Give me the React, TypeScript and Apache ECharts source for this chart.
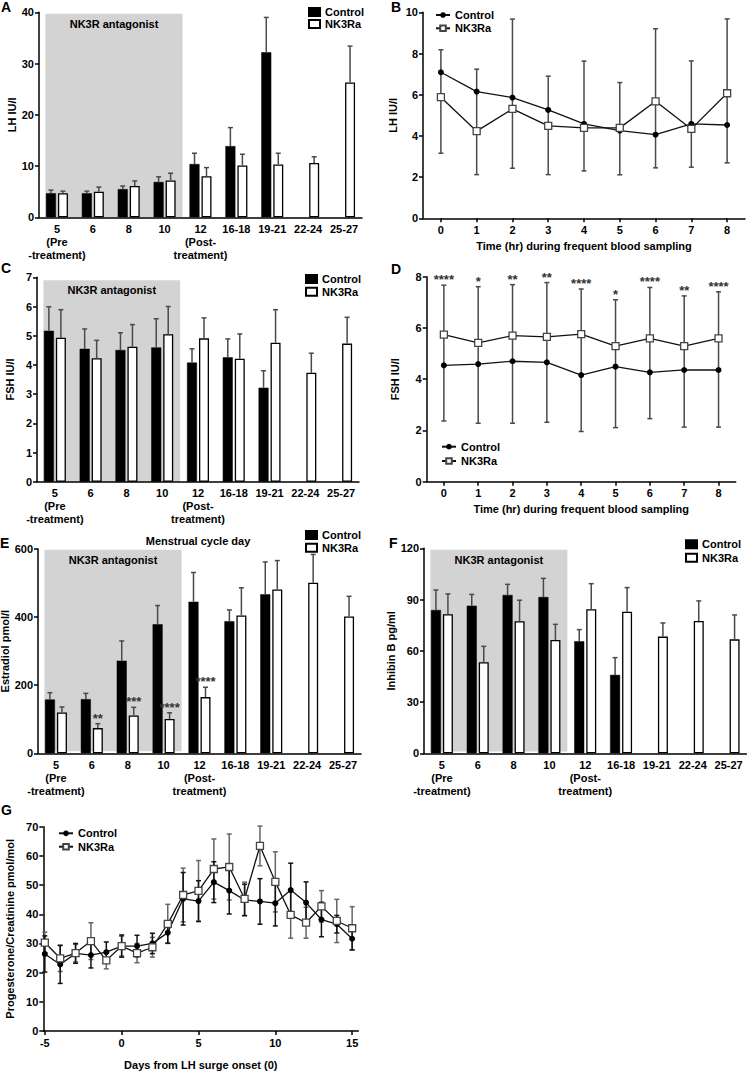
import React, { useEffect, useRef } from 'react';
import * as echarts from 'echarts';

// ---------- shared categories ----------
const cycleDays = ['5\n(Pre\n-treatment)', '6', '8', '10', '12\n(Post-\ntreatment)', '16-18', '19-21', '22-24', '25-27'];
const hours = [0, 1, 2, 3, 4, 5, 6, 7, 8];
const hourTicks = [0, 1, 2, 3, 4, 5, 6, 7, 8];
const days = [-5, -4, -3, -2, -1, 0, 1, 2, 3, 4, 5, 6, 7, 8, 9, 10, 11, 12, 13, 14, 15];
const dayTicks = [-5, 0, 5, 10, 15];

// ---------- A: LH (bars) ----------
const lhCtrl = [4.7, 4.7, 5.5, 6.9, 10.4, 13.9, 32.2, null, null];
const lhCtrlErr = [5.3, 5.1, 6.1, 7.9, 12.5, 17.5, 39.0, null, null];
const lhNk = [4.7, 5.0, 6.1, 7.2, 8.0, 10.1, 10.3, 10.6, 26.3];
const lhNkErr = [5.1, 5.9, 7.1, 8.6, 9.7, 12.3, 12.5, 11.8, 33.4];

// ---------- B: LH frequent sampling ----------
const bCtrl = [7.09, 6.15, 5.86, 5.26, 4.58, 4.26, 4.06, 4.58, 4.53];
const bNk = [5.88, 4.23, 5.31, 4.49, 4.39, 4.39, 5.68, 4.34, 6.07];
const bHigh = [8.18, 7.24, 9.67, 6.9, 7.63, 6.59, 9.2, 7.64, 9.68];
const bLow = [3.16, 2.12, 2.43, 2.12, 2.3, 2.11, 2.45, 2.48, 2.69];

// ---------- C: FSH (bars) ----------
const fshCtrl = [5.17, 4.55, 4.51, 4.6, 4.08, 4.26, 3.22, null, null];
const fshCtrlErr = [5.99, 5.23, 5.1, 5.58, 4.55, 4.89, 3.8, null, null];
const fshNk = [4.93, 4.23, 4.62, 5.05, 4.91, 4.21, 4.76, 3.73, 4.73];
const fshNkErr = [5.89, 4.84, 5.38, 6.0, 5.61, 5.06, 5.89, 4.4, 5.63];

// ---------- D: FSH frequent sampling ----------
const dCtrl = [4.54, 4.59, 4.7, 4.66, 4.16, 4.49, 4.27, 4.36, 4.36];
const dNk = [5.74, 5.42, 5.7, 5.65, 5.76, 5.29, 5.59, 5.29, 5.59];
const dHigh = [7.67, 7.61, 7.69, 7.77, 7.52, 7.1, 7.58, 7.25, 7.41];
const dLow = [2.37, 2.28, 2.28, 2.32, 1.96, 2.11, 2.46, 2.13, 2.13];
const dStars = ['****', '*', '**', '**', '****', '*', '****', '**', '****'];

// ---------- E: Estradiol (bars) ----------
const e2Ctrl = [158, 159, 272, 379, 445, 388, 467, null, null];
const e2CtrlErr = [178, 176, 330, 434, 531, 421, 562, null, null];
const e2Nk = [120, 74, 111, 101, 165, 405, 481, 501, 402];
const e2NkErr = [136, 87, 135, 119, 194, 486, 566, 584, 461];
const e2Stars = ['', '**', '***', '****', '****', '', '', '', ''];

// ---------- F: Inhibin B (bars) ----------
const inhCtrl = [83.9, 86.4, 92.7, 91.5, 65.6, 45.9, null, null, null];
const inhCtrlErr = [95.6, 93.0, 98.9, 102.4, 72.4, 56.0, null, null, null];
const inhNk = [81.4, 53.3, 77.3, 66.3, 84.3, 82.9, 68.3, 77.5, 66.7];
const inhNkErr = [93.3, 62.6, 89.6, 75.5, 99.3, 97.0, 76.3, 89.2, 81.0];

// ---------- G: Progesterone / creatinine ----------
const gCtrl = [26.4, 22.8, 26.6, 26.0, 27.0, 29.1, 29.1, 30.0, 33.7, 45.3, 44.5, 51.0, 48.1, 44.9, 44.4, 43.8, 48.3, 44.0, 38.2, 36.6, 31.6];
const gCtrlSd = [6.2, 6.5, 3.4, 4.4, 3.5, 3.8, 3.7, 3.5, 3.6, 9.0, 7.0, 7.0, 8.0, 5.4, 7.8, 7.8, 9.2, 7.1, 5.9, 3.0, 3.8];
const gNk = [30.3, 24.9, 26.7, 30.8, 24.2, 29.1, 26.7, 28.7, 36.7, 46.6, 48.0, 55.5, 56.2, 45.3, 63.4, 51.1, 39.8, 37.1, 42.7, 37.7, 35.2];
const gNkSd = [3.6, 4.5, 3.0, 6.3, 2.9, 3.4, 3.3, 3.4, 6.7, 9.2, 10.4, 10.3, 11.3, 5.7, 6.8, 10.3, 8.0, 5.3, 5.4, 7.4, 7.4];

// treatment period shading: [first category, last category, top, bottom]
const shadeA = [0, 3, 39.7, 0];
const shadeC = [0, 3, 6.9, 0];
const shadeE = [0, 3, 598, 6];
const shadeF = [0, 3, 119.2, 1];
const shadeLabel = 'NK3R antagonist';

const FONT = 'Arial, "Liberation Sans", sans-serif';
const BAR_W = 10;
const BAR_GAP = 2;
const BAR_OFF = (BAR_W + BAR_GAP) / 2;
const ERR_COLOR = '#4a4a4a';

const txt = { fontSize: 11, fontWeight: 'bold', color: '#000', fontFamily: FONT };

function yAxis(gridIndex: number, min: number, max: number, interval: number, name: string, nameGap: number) {
  return {
    type: 'value', gridIndex, min, max, interval, name, nameLocation: 'middle', nameGap,
    nameTextStyle: { ...txt },
    axisLine: { show: true, onZero: false, lineStyle: { color: '#000', width: 1.5 } },
    axisTick: { show: true, length: 4, lineStyle: { color: '#000', width: 1.5 } },
    axisLabel: { ...txt, margin: 5 },
    splitLine: { show: false },
  };
}

function catAxis(gridIndex: number, name?: string, nameGap?: number) {
  return {
    type: 'category', gridIndex, data: cycleDays,
    name: name || '', nameLocation: 'middle', nameGap: nameGap || 0, nameTextStyle: { ...txt },
    axisLine: { show: true, onZero: false, lineStyle: { color: '#000', width: 1.5 } },
    axisTick: { show: false },
    axisLabel: { ...txt, interval: 0, lineHeight: 13, margin: 5, hideOverlap: false },
    splitLine: { show: false },
  };
}

function valXAxis(gridIndex: number, min: number, max: number, ticks: number[], name: string, nameGap: number) {
  return {
    type: 'value', gridIndex, min, max, name, nameLocation: 'middle', nameGap,
    nameTextStyle: { ...txt },
    axisLine: { show: true, onZero: false, lineStyle: { color: '#000', width: 1.5 } },
    axisTick: { show: true, length: 4, customValues: ticks, lineStyle: { color: '#000', width: 1.5 } },
    axisLabel: { ...txt, margin: 6, customValues: ticks },
    splitLine: { show: false },
  };
}

function shadeSeries(g: number, shade: number[]) {
  return {
    type: 'custom', xAxisIndex: g, yAxisIndex: g, z: 0, silent: true, clip: false,
    data: [shade],
    renderItem: (params: any, api: any) => {
      const a = api.coord([api.value(0), api.value(2)]);
      const b = api.coord([api.value(1), api.value(3)]);
      const band = api.size([1, 0])[0];
      const x0 = a[0] - BAR_OFF - BAR_W / 2 - 0.5;
      const x1 = b[0] + band / 2;
      return {
        type: 'group',
        children: [
          { type: 'rect', shape: { x: x0, y: a[1], width: x1 - x0, height: b[1] - a[1] }, style: { fill: '#d3d3d3' } },
          {
            type: 'text', x: (x0 + x1) / 2, y: a[1] + 10,
            style: { text: shadeLabel, textAlign: 'center', textVerticalAlign: 'middle', align: 'center', verticalAlign: 'middle', font: 'bold 11px ' + FONT, fill: '#000' },
          },
        ],
      };
    },
  };
}

function barSeries(g: number, ctrl: (number | null)[], nk: (number | null)[]) {
  return [
    {
      type: 'bar', name: 'Control', xAxisIndex: g, yAxisIndex: g, z: 2, silent: true,
      data: ctrl.map((v) => (v == null ? '-' : v)), barWidth: BAR_W, barGap: (BAR_GAP / BAR_W) * 100 + '%',
      itemStyle: { color: '#000', borderColor: '#000', borderWidth: 0.5 },
    },
    {
      type: 'bar', name: 'NK3Ra', xAxisIndex: g, yAxisIndex: g, z: 2, silent: true,
      data: nk.map((v) => (v == null ? '-' : v)), barWidth: BAR_W, barGap: (BAR_GAP / BAR_W) * 100 + '%',
      itemStyle: { color: '#fff', borderColor: '#000', borderWidth: 1.3 },
    },
  ];
}

function barErrSeries(g: number, means: (number | null)[], errs: (number | null)[], side: number, stars?: string[]) {
  const items: number[][] = [];
  const labels: string[] = [];
  means.forEach((m, i) => {
    const e = errs[i];
    if (m != null && e != null) {
      items.push([i, m, e]);
      labels.push(stars ? stars[i] : '');
    }
  });
  return {
    type: 'custom', xAxisIndex: g, yAxisIndex: g, z: 3, silent: true, clip: false,
    data: items, encode: { x: 0, y: [1, 2] },
    renderItem: (params: any, api: any) => {
      const i = api.value(0);
      const p0 = api.coord([i, api.value(1)]);
      const p1 = api.coord([i, api.value(2)]);
      const cx = p0[0] + side * BAR_OFF;
      const children: any[] = [
        { type: 'line', shape: { x1: cx, y1: p0[1], x2: cx, y2: p1[1] }, style: { stroke: ERR_COLOR, lineWidth: 1.5 } },
        { type: 'line', shape: { x1: cx - 2.5, y1: p1[1], x2: cx + 2.5, y2: p1[1] }, style: { stroke: ERR_COLOR, lineWidth: 1.5 } },
      ];
      const s = labels[params.dataIndex];
      if (s) {
        children.push({
          type: 'text', x: cx, y: p1[1] + 1,
          style: { text: s, textAlign: 'center', textVerticalAlign: 'bottom', align: 'center', verticalAlign: 'bottom', font: 'bold 13px ' + FONT, fill: '#333' },
        });
      }
      return { type: 'group', children };
    },
  };
}

function rangeErrSeries(g: number, xs: number[], lows: number[], highs: number[], color: string, stars?: string[], z = 1) {
  const items = xs.map((x, i) => [x, lows[i], highs[i]]);
  return {
    type: 'custom', xAxisIndex: g, yAxisIndex: g, z, silent: true, clip: false,
    data: items, encode: { x: 0, y: [1, 2] },
    renderItem: (params: any, api: any) => {
      const x = api.value(0);
      const lo = api.coord([x, api.value(1)]);
      const hi = api.coord([x, api.value(2)]);
      const children: any[] = [
        { type: 'line', shape: { x1: lo[0], y1: lo[1], x2: hi[0], y2: hi[1] }, style: { stroke: color, lineWidth: 1.5 } },
        { type: 'line', shape: { x1: lo[0] - 2.5, y1: lo[1], x2: lo[0] + 2.5, y2: lo[1] }, style: { stroke: color, lineWidth: 1.5 } },
        { type: 'line', shape: { x1: hi[0] - 2.5, y1: hi[1], x2: hi[0] + 2.5, y2: hi[1] }, style: { stroke: color, lineWidth: 1.5 } },
      ];
      const s = stars ? stars[params.dataIndex] : '';
      if (s) {
        children.push({
          type: 'text', x: hi[0], y: hi[1] + 1,
          style: { text: s, textAlign: 'center', textVerticalAlign: 'bottom', align: 'center', verticalAlign: 'bottom', font: 'bold 13px ' + FONT, fill: '#333' },
        });
      }
      return { type: 'group', children };
    },
  };
}

function lineSeries(g: number, xs: number[], ys: number[], isCtrl: boolean) {
  return {
    type: 'line', name: isCtrl ? 'Control ' : 'NK3Ra ', xAxisIndex: g, yAxisIndex: g, z: 4, silent: true,
    data: xs.map((x, i) => [x, ys[i]]),
    symbol: isCtrl ? 'circle' : 'rect', symbolSize: isCtrl ? 6 : 7,
    lineStyle: { color: '#111', width: 1.3 },
    itemStyle: isCtrl ? { color: '#000', borderColor: '#000', borderWidth: 0 } : { color: '#fff', borderColor: '#444', borderWidth: 1.3 },
  };
}

function legend(names: string[], left: number, top: number, gap: number, isBar: boolean) {
  const base: any = {
    data: names, left, top, orient: 'vertical', padding: 0, itemGap: gap, selectedMode: false,
    formatter: (n: string) => n.trim(),
    textStyle: { ...txt, lineHeight: 12 },
  };
  if (isBar) {
    base.icon = 'rect';
    base.itemWidth = 11;
    base.itemHeight = 8;
  } else {
    base.itemWidth = 14;
    base.itemHeight = 7;
  }
  return base;
}

const panelLetters = [
  { t: 'A', l: 1, tp: 0 },
  { t: 'B', l: 391, tp: 0 },
  { t: 'C', l: 1, tp: 261 },
  { t: 'D', l: 391, tp: 262 },
  { t: 'E', l: 0, tp: 536 },
  { t: 'F', l: 389, tp: 536 },
  { t: 'G', l: 1, tp: 803 },
];

function buildOption(): any {
  const gNkLow = gNk.map((v, i) => v - gNkSd[i]);
  const gNkHigh = gNk.map((v, i) => v + gNkSd[i]);
  const gCtrlLow = gCtrl.map((v, i) => v - gCtrlSd[i]);
  const gCtrlHigh = gCtrl.map((v, i) => v + gCtrlSd[i]);

  return {
    animation: false,
    backgroundColor: '#fff',
    textStyle: { fontFamily: FONT },
    title: panelLetters.map((p) => ({
      text: p.t, left: p.l, top: p.tp, padding: 0,
      textStyle: { fontSize: 14, fontWeight: 'bold', color: '#000', fontFamily: FONT },
    })),
    legend: [
      legend(['Control', 'NK3Ra'], 308, 6, 0, true),
      legend(['Control ', 'NK3Ra '], 435, 9, 1.3, false),
      legend(['Control', 'NK3Ra'], 305, 273, 0.7, true),
      legend(['Control ', 'NK3Ra '], 441, 440.7, 2.3, false),
      legend(['Control', 'NK3Ra'], 305, 529, 0.7, true),
      legend(['Control', 'NK3Ra'], 685, 538.3, 1.4, true),
      legend(['Control ', 'NK3Ra '], 58, 827.3, 1.4, false),
    ],
    grid: [
      { left: 39, top: 12.3, width: 323, height: 205, containLabel: false, outerBoundsMode: 'none' },
      { left: 423, top: 12.3, width: 322, height: 206, containLabel: false, outerBoundsMode: 'none' },
      { left: 37, top: 277.3, width: 322, height: 204.4, containLabel: false, outerBoundsMode: 'none' },
      { left: 426.7, top: 276.7, width: 309, height: 205, containLabel: false, outerBoundsMode: 'none' },
      { left: 38, top: 549, width: 323, height: 204.3, containLabel: false, outerBoundsMode: 'none' },
      { left: 424, top: 548.3, width: 322.5, height: 205, containLabel: false, outerBoundsMode: 'none' },
      { left: 43.3, top: 826.7, width: 315, height: 204.3, containLabel: false, outerBoundsMode: 'none' },
    ],
    xAxis: [
      catAxis(0),
      valXAxis(1, -0.5, 8.5, hourTicks, 'Time (hr) during frequent blood sampling', 22),
      catAxis(2, 'Menstrual cycle day', 54),
      valXAxis(3, -0.5, 8.5, hourTicks, 'Time (hr) during frequent blood sampling', 22),
      catAxis(4),
      catAxis(5),
      valXAxis(6, -5.1, 15.4, dayTicks, 'Days from LH surge onset (0)', 28),
    ],
    yAxis: [
      yAxis(0, 0, 40, 10, 'LH IU/l', 18.5),
      yAxis(1, 0, 10, 2, 'LH IU/l', 24.5),
      yAxis(2, 0, 7, 1, 'FSH IU/l', 21.5),
      yAxis(3, 0, 8, 2, 'FSH IU/l', 26),
      yAxis(4, 0, 600, 200, 'Estradiol pmol/l', 27.5),
      yAxis(5, 0, 120, 30, 'Inhibin B pg/ml', 26.8),
      yAxis(6, 0, 70, 10, 'Progesterone/Creatinine pmol/mol', 27.8),
    ],
    series: [
      // A
      shadeSeries(0, shadeA),
      ...barSeries(0, lhCtrl, lhNk),
      barErrSeries(0, lhCtrl, lhCtrlErr, -1),
      barErrSeries(0, lhNk, lhNkErr, 1),
      // B
      rangeErrSeries(1, hours, bLow, bHigh, ERR_COLOR),
      lineSeries(1, hours, bCtrl, true),
      lineSeries(1, hours, bNk, false),
      // C
      shadeSeries(2, shadeC),
      ...barSeries(2, fshCtrl, fshNk),
      barErrSeries(2, fshCtrl, fshCtrlErr, -1),
      barErrSeries(2, fshNk, fshNkErr, 1),
      // D
      rangeErrSeries(3, hours, dLow, dHigh, ERR_COLOR, dStars),
      lineSeries(3, hours, dCtrl, true),
      lineSeries(3, hours, dNk, false),
      // E
      shadeSeries(4, shadeE),
      ...barSeries(4, e2Ctrl, e2Nk),
      barErrSeries(4, e2Ctrl, e2CtrlErr, -1),
      barErrSeries(4, e2Nk, e2NkErr, 1, e2Stars),
      // F
      shadeSeries(5, shadeF),
      ...barSeries(5, inhCtrl, inhNk),
      barErrSeries(5, inhCtrl, inhCtrlErr, -1),
      barErrSeries(5, inhNk, inhNkErr, 1),
      // G
      rangeErrSeries(6, days, gNkLow, gNkHigh, '#666', undefined, 1),
      rangeErrSeries(6, days, gCtrlLow, gCtrlHigh, '#111', undefined, 2),
      lineSeries(6, days, gCtrl, true),
      lineSeries(6, days, gNk, false),
    ],
  };
}

export default function App() {
  const ref = useRef<HTMLDivElement>(null);
  useEffect(() => {
    document.body.style.margin = '0';
    const chart = echarts.init(ref.current as HTMLDivElement, null, { renderer: 'svg' });
    chart.setOption(buildOption());
    return () => {
      chart.dispose();
    };
  }, []);
  return <div ref={ref} style={{ position: 'absolute', left: 0, top: 0, width: 747, height: 1071 }} />;
}
